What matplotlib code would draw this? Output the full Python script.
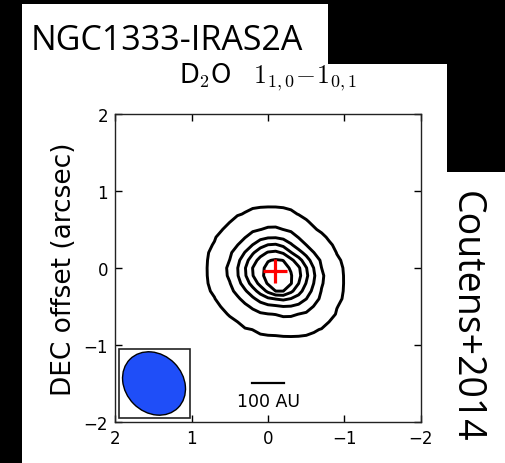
import numpy as np
import matplotlib
matplotlib.use('Agg')
import matplotlib.pyplot as plt
from matplotlib.patches import Rectangle, Ellipse
from matplotlib import rcParams
rcParams['mathtext.fontset'] = 'cm'

# contour levels (fraction of peak) and ring radii (arcsec),
# measured from the peak at position angles 0,45,...,315 deg (0 = +RA, 90 = +DEC)
levels = [0.15, 0.30, 0.45, 0.60, 0.75, 0.90]
pa_deg = [0, 45, 90, 135, 180, 225, 270, 315]
ring_015 = [0.88, 0.86, 0.82, 0.75, 0.87, 0.97, 0.81, 0.82]
ring_030 = [0.62, 0.58, 0.56, 0.52, 0.62, 0.68, 0.56, 0.56]
ring_045 = [0.49, 0.45, 0.43, 0.40, 0.52, 0.55, 0.44, 0.44]
ring_060 = [0.39, 0.36, 0.35, 0.32, 0.43, 0.44, 0.36, 0.35]
ring_075 = [0.30, 0.27, 0.26, 0.25, 0.35, 0.35, 0.30, 0.27]
ring_090 = [0.16, 0.16, 0.16, 0.18, 0.21, 0.31, 0.26, 0.20]
peak = (-0.09, -0.04)

# beam and scale bar
beam_center = (1.49, -1.50)
beam_size = (0.89, 0.75)
beam_pa = 45
scale_len = 0.43   # 100 AU at 235 pc
scale_pos = (0.0, -1.49)


def ring_map(x, y):
    rings = [ring_090, ring_075, ring_060, ring_045, ring_030, ring_015]
    angs = np.array(pa_deg + [360])
    Z = np.zeros_like(x)
    for i in range(x.shape[0]):
        for j in range(x.shape[1]):
            dx = x[i, j] - peak[0]
            dy = y[i, j] - peak[1]
            r = np.hypot(dx, dy)
            phi = np.degrees(np.arctan2(dy, dx)) % 360
            rad = [np.interp(phi, angs, rr + [rr[0]]) for rr in rings]
            nodes = [0] + rad + [2 * rad[-1]]
            vals = [1.0] + levels[::-1] + [0.0]
            Z[i, j] = np.interp(r, nodes, vals)
    return Z


fig = plt.figure(figsize=(5.06, 4.64), dpi=100, facecolor='black')
# white panels of the slide
for rect in [(0.0435, 0.8599, 0.6047, 0.1293),
             (0.0435, 0.0, 0.8399, 0.8599),
             (0.8834, 0.0, 0.1166, 0.6272)]:
    fig.patches.append(Rectangle(rect[:2], rect[2], rect[3], transform=fig.transFigure,
                                 facecolor='white', edgecolor='none', zorder=-5))

ax = fig.add_axes([0.2273, 0.0884, 0.6047, 0.6638])
xs = np.arange(-2.0, 2.001, 0.1)
ys = np.arange(-2.0, 2.001, 0.1)
X, Y = np.meshgrid(xs, ys)
Z = ring_map(X, Y)
ax.contour(X, Y, Z, levels=levels, colors='k', linewidths=2.1)
ax.plot(peak[0], peak[1], '+', color='red', ms=17, mew=2.3)

ax.add_patch(Rectangle((1.02, -1.95), 0.93, 0.90, facecolor='white',
                       edgecolor='#222222', lw=1.2, zorder=3))
ax.add_patch(Ellipse(beam_center, beam_size[0], beam_size[1], angle=beam_pa,
                     facecolor='#1f4ef8', edgecolor='k', lw=1.0, zorder=4))

ax.plot([scale_pos[0] + scale_len / 2, scale_pos[0] - scale_len / 2],
        [scale_pos[1], scale_pos[1]], 'k-', lw=1.6)
ax.text(scale_pos[0], scale_pos[1] - 0.24, '100 AU', ha='center', va='center', fontsize=12.5)

ax.set_xlim(2, -2)
ax.set_ylim(-2, 2)
ax.set_xticks([2, 1, 0, -1, -2])
ax.set_yticks([-2, -1, 0, 1, 2])
ax.tick_params(direction='in', top=True, right=True, length=5, width=1,
               labelsize=12, pad=5)
for s in ax.spines.values():
    s.set_linewidth(1.0)
    s.set_color('#222222')
ax.set_ylabel('DEC offset (arcsec)', fontsize=19)
ax.yaxis.set_label_coords(-0.124, 0.5)

fig.text(0.5297, 0.821, r'D$_2$O$\quad1_{1,0}\!-\!1_{0,1}$', ha='center', va='baseline', fontsize=18.5)
fig.text(0.0613, 0.912, 'NGC1333-IRAS2A', family='Open Sans', fontsize=24.5,
         ha='left', va='center')
fig.text(0.921, 0.317, 'Coutens+2014', family='Open Sans', fontsize=27,
         rotation=-90, ha='center', va='center')

fig.savefig('out.png', dpi=100, facecolor='black')
